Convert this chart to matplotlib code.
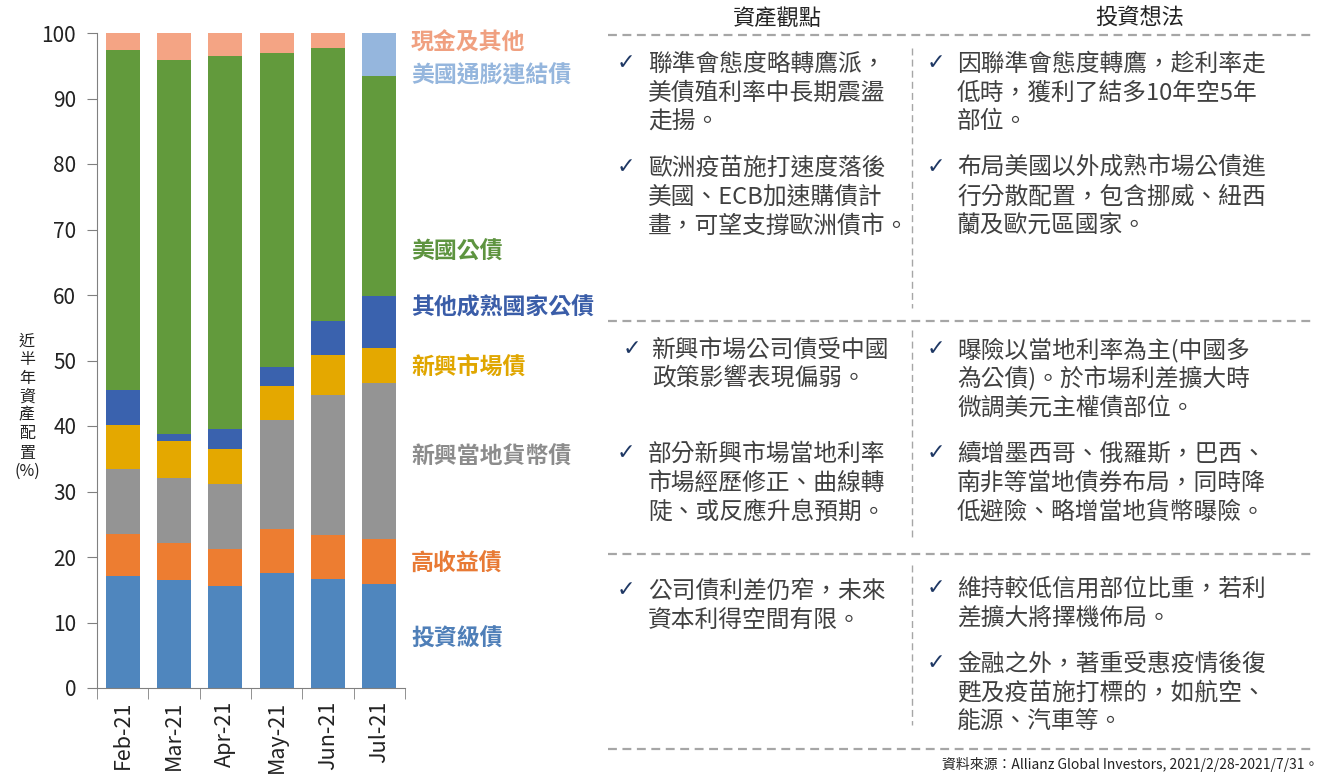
import matplotlib
matplotlib.use("Agg")
import matplotlib.pyplot as plt
from matplotlib.lines import Line2D
import numpy as np

plt.rcParams['font.family'] = ['Noto Sans CJK TC', 'DejaVu Sans']

months = ["Feb-21", "Mar-21", "Apr-21", "May-21", "Jun-21", "Jul-21"]
series_names = ["投資級債", "高收益債", "新興當地貨幣債", "新興市場債",
                "其他成熟國家公債", "美國公債", "美國通膨連結債", "現金及其他"]
ig    = [17.1, 16.5, 15.6, 17.6, 16.7, 15.9]
hy    = [6.4, 5.7, 5.6, 6.7, 6.6, 6.9]
emlc  = [10.0, 9.8, 9.9, 16.6, 21.4, 23.7]
em    = [6.7, 5.7, 5.4, 5.2, 6.2, 5.4]
dm    = [5.3, 1.1, 3.1, 2.9, 5.2, 7.9]
ust   = [51.9, 57.1, 56.9, 48.0, 41.6, 33.6]
tips  = [0, 0, 0, 0, 0, 6.6]
cash  = [2.6, 4.1, 3.5, 3.0, 2.3, 0]
series = [ig, hy, emlc, em, dm, ust, tips, cash]

ylabel_text = "近半年資產配置"
ylabel_unit = "(%)"
header_left = "資產觀點"
header_right = "投資想法"

views_left = [
    ["聯準會態度略轉鷹派，", "美債殖利率中長期震盪", "走揚。"],
    ["歐洲疫苗施打速度落後", "美國、ECB加速購債計", "畫，可望支撐歐洲債市。"],
    ["新興市場公司債受中國", "政策影響表現偏弱。"],
    ["部分新興市場當地利率", "市場經歷修正、曲線轉", "陡、或反應升息預期。"],
    ["公司債利差仍窄，未來", "資本利得空間有限。"],
]
views_right = [
    ["因聯準會態度轉鷹，趁利率走", "低時，獲利了結多10年空5年", "部位。"],
    ["布局美國以外成熟市場公債進", "行分散配置，包含挪威、紐西", "蘭及歐元區國家。"],
    ["曝險以當地利率為主(中國多", "為公債)。於市場利差擴大時", "微調美元主權債部位。"],
    ["續增墨西哥、俄羅斯，巴西、", "南非等當地債券布局，同時降", "低避險、略增當地貨幣曝險。"],
    ["維持較低信用部位比重，若利", "差擴大將擇機佈局。"],
    ["金融之外，著重受惠疫情後復", "甦及疫苗施打標的，如航空、", "能源、汽車等。"],
]
source_text = "資料來源：Allianz Global Investors, 2021/2/28-2021/7/31。"

# ---- styling / layout ----
colors = ["#4F86BE", "#ED7D31", "#949494", "#E4A800",
          "#3A62AE", "#629A3C", "#95B6DD", "#F4A484"]
label_colors = ["#4F7FB8", "#E87A35", "#8C8C8C", "#E0A600",
                "#3A5DA8", "#5E9440", "#95B6DD", "#F0A080"]
label_y_px = [639, 564, 457, 367, 308, 252, 76, 43]
left_layout = [(64, 617, 648), (168, 617, 648), (350, 623, 652), (454, 617, 648), (591, 617, 648)]
right_layout = [(64, 927, 957), (168, 927, 957), (350, 927, 957), (454, 927, 957),
                (589, 927, 957), (664, 927, 957)]

W, H = 1325, 778
fig = plt.figure(figsize=(W / 100, H / 100), dpi=100)

def fx(px):
    return px / W

def fy(py):
    return 1 - py / H

ax = fig.add_axes([fx(97), fy(688), fx(405) - fx(97), fy(33) - fy(688)])
x = np.arange(len(months))
bottom = np.zeros(len(months))
for vals, c in zip(series, colors):
    v = np.array(vals)
    ax.bar(x, v, bottom=bottom, width=0.66, color=c, linewidth=0)
    bottom += v

ax.set_xlim(-0.5, len(months) - 0.5)
ax.set_ylim(0, 100)
ax.set_yticks(np.arange(0, 101, 10))
ax.set_xticks(x)
ax.set_xticklabels(months, rotation=90, fontsize=15.5, color="#222222")
ax.set_xticks(np.arange(-0.5, len(months)), minor=True)
ax.tick_params(axis='x', which='major', length=0, pad=9)
ax.tick_params(axis='x', which='minor', length=8, color="#808080", direction='out')
ax.tick_params(axis='y', length=7, color="#808080", labelsize=15, labelcolor="#222222", pad=8)
for s in ['top', 'right']:
    ax.spines[s].set_visible(False)
for s in ['left', 'bottom']:
    ax.spines[s].set_color("#808080")

fig.text(fx(27), fy(406), "\n".join(list(ylabel_text)) + "\n" + ylabel_unit,
         ha='center', va='center', fontsize=11.5, color="#222222", linespacing=1.12)

for name, c, py in zip(series_names, label_colors, label_y_px):
    fig.text(fx(411), fy(py), name, color=c, fontsize=16.5, fontweight='bold',
             ha='left', va='center')

# Right panel
text_color = "#404040"
check_color = "#1F3864"
fig.text(fx(777), fy(18), header_left, ha='center', va='center', fontsize=16, color="#222222")
fig.text(fx(1140), fy(18), header_right, ha='center', va='center', fontsize=16, color="#222222")

for py in [35, 321, 554, 749]:
    fig.add_artist(Line2D([fx(608), fx(1313)], [fy(py), fy(py)], color="#A6A6A6",
                          linewidth=1.6, linestyle=(0, (4, 2.5))))
for y0, y1 in [(48, 308), (330, 540), (565, 725)]:
    fig.add_artist(Line2D([fx(912), fx(912)], [fy(y0), fy(y1)], color="#A6A6A6",
                          linewidth=1.0, linestyle=(0, (5, 3))))

line_h = 29
def draw_bullets(items, layout):
    for lines, (py, xcheck, xtext) in zip(items, layout):
        fig.text(fx(xcheck), fy(py - 1), "✓", ha='left', va='center', fontsize=16,
                 color=check_color, family='DejaVu Sans')
        for i, ln in enumerate(lines):
            fig.text(fx(xtext), fy(py + i * line_h), ln, ha='left', va='center',
                     fontsize=17.1, color=text_color)

draw_bullets(views_left, left_layout)
draw_bullets(views_right, right_layout)

fig.text(fx(1318), fy(764), source_text, ha='right', va='center', fontsize=10, color="#222222")

fig.savefig("out.png", dpi=100)
